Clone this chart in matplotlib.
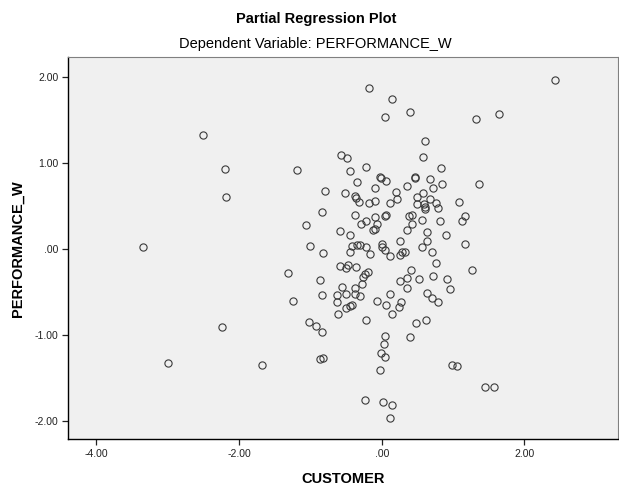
import matplotlib.pyplot as plt

plt.rcParams['font.family'] = ['Liberation Sans', 'DejaVu Sans']

# Partial regression residuals
customer = [
    -2.50, -2.19, -2.18, -3.34, -2.24, -2.99, -1.67,
    2.43, 1.64, 1.32, 0.83, 1.36, 0.84, 0.72, 1.08, 0.76, 0.79, 1.16, 1.13,
    0.82, 0.90, 1.17, 0.71, 0.76, 1.26, 0.72, 0.92, 0.96, 0.71, 0.79, 0.99,
    1.06, 1.45, 1.57,
    -0.18, 0.14, 0.05, 0.39, 0.61, 0.58, -0.57, -0.48, -1.18, -0.45, -0.22,
    -0.34, -0.02, -0.01, 0.06, 0.47, 0.46, 0.67, 0.36, -0.09, -0.80, -0.52,
    0.20, 0.21, -0.38, -0.36, -0.32, -0.18, -0.09, 0.12, 0.49, 0.58, 0.67,
    0.50, 0.59, 0.61, 0.60, -0.83, -1.06, -0.58, -0.45, -0.37, -0.29, -0.22,
    -0.09, -0.06, 0.04, 0.06, -0.12, -0.10, 0.38, 0.42, 0.56, 0.35, 0.43,
    0.63, 0.01, 0.25, 0.63,
    -1.00, -0.82, -0.42, -0.35, -0.31, -0.22, -0.17, -0.44, 0.01, 0.05,
    0.11, 0.25, 0.29, 0.32, 0.57, -1.31, -0.86, -1.24, -0.83, -0.58, -0.50,
    -0.47, -0.36, -0.19, -0.24, -0.26, -0.27, -0.56, -0.37, -0.62, -0.50,
    -0.38, -0.30, -0.62, -0.50, -0.44, -0.41, -0.61, -0.22, -1.02, -0.92,
    -0.84, -0.87, -0.82, -0.07, 0.06, 0.15, 0.12, 0.24, 0.27, 0.25, 0.36,
    0.41, 0.52, 0.35, 0.64, 0.48, 0.62, 0.39, 0.05, 0.03, -0.01, 0.05,
    -0.03, -0.24, 0.02, 0.15, 0.11,
]
performance = [
    1.33, 0.93, 0.61, 0.02, -0.91, -1.32, -1.35,
    1.97, 1.57, 1.51, 0.94, 0.75, 0.76, 0.71, 0.55, 0.53, 0.48, 0.38, 0.32,
    0.33, 0.16, 0.06, -0.03, -0.16, -0.25, -0.31, -0.35, -0.46, -0.57, -0.62,
    -1.35, -1.36, -1.61, -1.60,
    1.87, 1.74, 1.53, 1.59, 1.26, 1.07, 1.09, 1.06, 0.92, 0.91, 0.95,
    0.78, 0.84, 0.82, 0.79, 0.84, 0.82, 0.81, 0.73, 0.71, 0.67, 0.65,
    0.66, 0.58, 0.62, 0.59, 0.55, 0.53, 0.56, 0.53, 0.60, 0.65, 0.58,
    0.52, 0.52, 0.49, 0.46, 0.43, 0.28, 0.21, 0.16, 0.40, 0.29, 0.33,
    0.37, 0.29, 0.38, 0.39, 0.22, 0.23, 0.38, 0.39, 0.34, 0.22, 0.29,
    0.20, 0.06, 0.09, 0.09,
    0.03, -0.05, 0.04, 0.05, 0.05, 0.02, -0.06, -0.03, 0.02, -0.01,
    -0.08, -0.07, -0.04, -0.03, 0.02, -0.28, -0.36, -0.60, -0.54, -0.20, -0.22,
    -0.19, -0.21, -0.27, -0.29, -0.33, -0.41, -0.44, -0.45, -0.53, -0.52,
    -0.52, -0.55, -0.62, -0.69, -0.66, -0.65, -0.76, -0.82, -0.85, -0.90,
    -0.96, -1.28, -1.27, -0.60, -0.65, -0.76, -0.52, -0.67, -0.62, -0.37, -0.34,
    -0.24, -0.35, -0.45, -0.51, -0.86, -0.83, -1.02, -1.01, -1.11, -1.21, -1.26,
    -1.41, -1.76, -1.78, -1.81, -1.97,
]

x_ticks = [-4, -2, 0, 2]
x_tick_labels = ['-4.00', '-2.00', '.00', '2.00']
y_ticks = [-2, -1, 0, 1, 2]
y_tick_labels = ['-2.00', '-1.00', '.00', '1.00', '2.00']

fig = plt.figure(figsize=(6.19, 4.88), dpi=100)
ax = fig.add_axes([0.1103, 0.0998, 0.8881, 0.7824])
ax.set_facecolor('#f0f0f0')

ax.plot(customer, performance, linestyle='none', marker='o', markersize=5.2,
        markerfacecolor='none', markeredgecolor='#3a3a3a', markeredgewidth=0.8)

ax.set_xlim(-4.39, 3.31)
ax.set_ylim(-2.213, 2.227)
ax.set_xticks(x_ticks)
ax.set_xticklabels(x_tick_labels)
ax.set_yticks(y_ticks)
ax.set_yticklabels(y_tick_labels)
ax.tick_params(axis='both', labelsize=7.5, length=4, width=0.9,
               colors='#222222', pad=3)

for side in ['left', 'bottom']:
    ax.spines[side].set_color('black')
    ax.spines[side].set_linewidth(1.0)
ax.spines['top'].set_color('#808080')
ax.spines['right'].set_color('#808080')

ax.set_xlabel('CUSTOMER', fontsize=10.5, fontweight='bold', labelpad=9)
ax.set_ylabel('PERFORMANCE_W', fontsize=10.5, fontweight='bold', labelpad=7)

fig.text(0.51, 0.962, 'Partial Regression Plot', ha='center', va='center',
         fontsize=10.5, fontweight='bold')
fig.text(0.51, 0.909, 'Dependent Variable: PERFORMANCE_W', ha='center',
         va='center', fontsize=10.5)

fig.savefig('out.png', dpi=100)
